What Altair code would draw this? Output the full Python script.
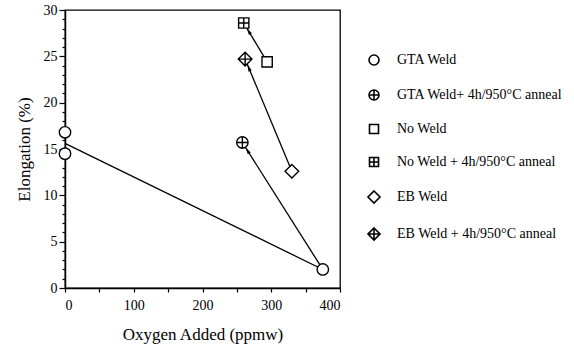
import math
import altair as alt
import pandas as pd

# ---- data ----
series_names = [
    "GTA Weld",
    "GTA Weld+ 4h/950°C anneal",
    "No Weld",
    "No Weld + 4h/950°C anneal",
    "EB Weld",
    "EB Weld + 4h/950°C anneal",
]
pt_series = ["GTA Weld", "GTA Weld", "GTA Weld",
             "GTA Weld+ 4h/950°C anneal",
             "No Weld", "No Weld + 4h/950°C anneal",
             "EB Weld", "EB Weld + 4h/950°C anneal"]
pt_oxygen = [0, 0, 375, 258, 294, 260, 330, 262]
pt_elong = [16.8, 14.5, 2.0, 15.7, 24.4, 28.6, 12.6, 24.7]

# straight fitted line through the GTA weld points
fit_oxygen = [0, 375]
fit_elong = [15.6, 2.0]

# arrows: from (as-welded) -> to (annealed)
arrow_from_x = [375, 294, 330]
arrow_from_y = [2.0, 24.4, 12.6]
arrow_to_x = [258, 260, 262]
arrow_to_y = [15.7, 28.6, 24.7]

# ---- layout ----
W, H = 275, 278
XMAX, YMAX = 400, 30
font = "Liberation Serif"

# marker shapes (SVG paths in unit coordinates)
circ = "M-1,0A1,1 0 1,1 1,0A1,1 0 1,1 -1,0Z"
sq = "M-0.9,-0.9L0.9,-0.9L0.9,0.9L-0.9,0.9Z"
dia = "M0,-1.2L1.2,0L0,1.2L-1.2,0Z"
shapes = [circ, circ + "M-1,0L1,0M0,-1L0,1", sq, sq + "M-0.9,0L0.9,0M0,-0.9L0,0.9",
          dia, dia + "M-1.2,0L1.2,0M0,-1.2L0,1.2"]

pts = pd.DataFrame({"series": pt_series, "oxygen": pt_oxygen, "elong": pt_elong})

xs = alt.Scale(domain=[0, XMAX], nice=False, zero=False)
ys = alt.Scale(domain=[0, YMAX], nice=False, zero=False)

x_axis = alt.Axis(values=list(range(0, 401, 50)),
                  labelExpr="datum.value % 100 === 0 ? datum.label : ''",
                  title="Oxygen Added (ppmw)", tickSize=4, labelPadding=6,
                  titlePadding=14)
y_axis = alt.Axis(values=list(range(0, 31)),
                  labelExpr="datum.value % 5 === 0 ? datum.label : ''",
                  tickSize={"condition": {"test": "datum.value % 5 === 0", "value": 6}, "value": 3},
                  title="Elongation (%)", labelPadding=2, titlePadding=10)

X = alt.X("oxygen:Q", scale=xs, axis=x_axis)
Y = alt.Y("elong:Q", scale=ys, axis=y_axis)

fit_df = pd.DataFrame({"oxygen": fit_oxygen, "elong": fit_elong})
fit = alt.Chart(fit_df).mark_line(color="black", strokeWidth=1.3).encode(x=X, y=Y)

# arrow shafts and heads
rows = []
heads = []
for i in range(len(arrow_from_x)):
    rows.append({"id": i, "o": 0, "oxygen": arrow_from_x[i], "elong": arrow_from_y[i]})
    rows.append({"id": i, "o": 1, "oxygen": arrow_to_x[i], "elong": arrow_to_y[i]})
    dxp = (arrow_to_x[i] - arrow_from_x[i]) * W / XMAX
    dyp = -(arrow_to_y[i] - arrow_from_y[i]) * H / YMAX
    L = math.hypot(dxp, dyp)
    ang = math.degrees(math.atan2(dxp, -dyp)) % 360
    back = 11.0 / L  # head sits at the edge of the target marker
    heads.append({"oxygen": arrow_to_x[i] - (arrow_to_x[i] - arrow_from_x[i]) * back,
                  "elong": arrow_to_y[i] - (arrow_to_y[i] - arrow_from_y[i]) * back,
                  "ang": ang})
arr_df = pd.DataFrame(rows)
head_df = pd.DataFrame(heads)

shafts = alt.Chart(arr_df).mark_line(color="black", strokeWidth=1.3).encode(
    x=X, y=Y, detail="id:N", order="o:Q")
arrowheads = alt.Chart(head_df).mark_point(
    shape="M0,-1.6L0.55,0.6L-0.55,0.6Z", filled=True, color="black", size=40, opacity=1
).encode(x=X, y=Y, angle=alt.Angle("ang:Q", scale=None))

# markers: white fill, black outline; colour scale maps every series to black
markers = alt.Chart(pts).mark_point(
    filled=True, fill="white", strokeWidth=1.4, size=130, opacity=1, fillOpacity=1
).encode(
    x=X, y=Y,
    stroke=alt.Stroke("series:N", scale=alt.Scale(domain=series_names,
                                                  range=["black"] * 6),
                      sort=series_names, legend=None),
    shape=alt.Shape(
        "series:N", scale=alt.Scale(domain=series_names, range=shapes),
        sort=series_names,
        legend=alt.Legend(
            title=None, orient="none", legendX=302, legendY=43,
            symbolSize=100, symbolStrokeColor="black", symbolFillColor="white",
            symbolStrokeWidth=1.6, symbolOpacity=1,
            labelFont=font, labelFontSize=14,
            labelColor="black", rowPadding=17, labelOffset=16, labelLimit=300,
        ),
    ),
)

chart = alt.layer(fit, shafts, arrowheads, markers).properties(
    width=W, height=H,
    autosize=alt.AutoSizeParams(type="none"),
    padding={"left": 65, "top": 10, "right": 234, "bottom": 61},
    background="white",
).configure_view(stroke="black", strokeWidth=1.3).configure_axis(
    labelFont=font, titleFont=font, labelFontSize=14, titleFontSize=17,
    titleFontWeight="normal", labelColor="black", titleColor="black",
    domainColor="black", tickColor="black", domainWidth=1.5, tickWidth=1.2,
    grid=False,
)

chart.save("out.html", embed_options={"renderer": "svg", "actions": False})
